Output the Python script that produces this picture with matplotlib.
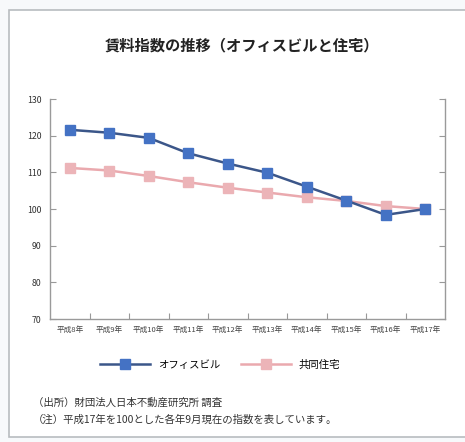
import matplotlib
matplotlib.use("Agg")
import matplotlib.pyplot as plt
from matplotlib.patches import Rectangle

plt.rcParams['font.family'] = ['Noto Sans CJK JP', 'DejaVu Sans']

categories = ["平成8年", "平成9年", "平成10年", "平成11年", "平成12年",
              "平成13年", "平成14年", "平成15年", "平成16年", "平成17年"]
office = [121.6, 120.8, 119.4, 115.2, 112.4, 109.9, 106.1, 102.3, 98.4, 100.0]
housing = [111.2, 110.5, 109.0, 107.3, 105.8, 104.5, 103.2, 102.2, 100.8, 100.0]
yticks = [70, 80, 90, 100, 110, 120, 130]

title = "賃料指数の推移（オフィスビルと住宅）"
note1 = "（出所）財団法人日本不動産研究所 調査"
note2 = "（注）平成17年を100とした各年9月現在の指数を表しています。"

W, H = 465, 442
fig = plt.figure(figsize=(W / 100, H / 100), dpi=100)
fig.patch.set_facecolor("#f7f9fb")

# outer frame
fig.patches.append(Rectangle((9 / W, 1 - 437 / H), 470 / W, (437 - 10) / H,
                             transform=fig.transFigure, facecolor="white",
                             edgecolor="#b8bcc0", linewidth=1.2, zorder=-10))

ax = fig.add_axes([50 / W, 1 - 319 / H, 395 / W, 220 / H])
ax.set_zorder(2)
ax.set_facecolor("white")
x = list(range(len(categories)))
ax.plot(x, office, color="#3b5689", linewidth=1.8, marker="s", markersize=6.5,
        markerfacecolor="#4472c4", markeredgecolor="#4472c4", label="オフィスビル", zorder=3)
ax.plot(x, housing, color="#eaa9ae", linewidth=1.8, marker="s", markersize=6.5,
        markerfacecolor="#ecb4b8", markeredgecolor="#ecb4b8", label="共同住宅", zorder=2)

ax.set_xlim(-0.5, len(categories) - 0.5)
ax.set_ylim(70, 130)
ax.set_yticks(yticks)
ax.set_yticklabels([str(v) for v in yticks], fontsize=6.3, color="#333333")
ax.set_xticks([i + 0.5 for i in range(len(categories) - 1)])
ax.set_xticklabels([])
ax.set_xticks(x, minor=True)
ax.set_xticklabels(categories, minor=True, fontsize=5.5, color="#444444")
ax.tick_params(axis="x", which="minor", length=0, pad=5)
ax.tick_params(axis="x", which="major", direction="in", length=4, color="#999999")
ax.tick_params(axis="y", direction="in", length=4, color="#999999", pad=6,
               right=True)
for s in ["left", "right", "bottom"]:
    ax.spines[s].set_color("#9a9a9a")
    ax.spines[s].set_linewidth(1.0)
ax.spines["top"].set_visible(False)

fig.text(242 / W, 1 - 45 / H, title, ha="center", va="center", fontsize=11,
         fontweight="bold", color="#222222")

fig.legend(loc="center", bbox_to_anchor=(220 / W, 1 - 365 / H), ncol=2,
           frameon=False, fontsize=7.5, handlelength=4.8, columnspacing=2.0,
           handletextpad=0.7)

fig.text(33 / W, 1 - 403 / H, note1, ha="left", va="center", fontsize=7.5,
         color="#333333")
fig.text(33 / W, 1 - 420 / H, note2, ha="left", va="center", fontsize=7.5,
         color="#333333")

fig.savefig("out.png", dpi=100, facecolor=fig.get_facecolor())
